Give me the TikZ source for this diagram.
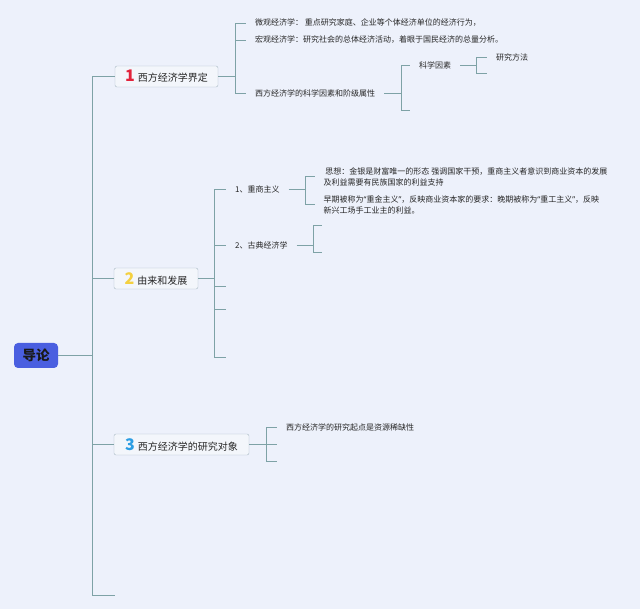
\documentclass[tikz,border=0pt]{standalone}
\usepackage{fontspec}
\newfontfamily\cjk{Noto Sans CJK SC}
\newfontfamily\lat{Noto Sans}
\definecolor{bgcol}{HTML}{EDF1FB}
\definecolor{linkcol}{HTML}{7EA2A6}
\definecolor{boxfill}{HTML}{F3F6FB}
\definecolor{boxdraw}{HTML}{A9B9C4}
\definecolor{rootcol}{HTML}{4A5FE0}
\definecolor{numA}{HTML}{E2233B}
\definecolor{numB}{HTML}{F4D03F}
\definecolor{numC}{HTML}{2B9DE3}
\newcommand{\topicnum}[2]{\textcolor{#1}{\fontsize{16}{16}\selectfont\bfseries #2}\hspace{3pt}}
\newcommand{\quoted}[1]{{\lat “}#1{\lat ”}}
\begin{document}
\begin{tikzpicture}[x=1pt, y=-1pt,
  every node/.style={font=\cjk\fontsize{8}{11}\selectfont, text=black!85, inner sep=0pt},
  link/.style={draw=linkcol, line width=.8pt},
  rootbox/.style={fill=rootcol, rounded corners=4pt, minimum width=44pt, minimum height=25pt,
    font=\cjk\bfseries\fontsize{13.5}{13.5}\selectfont, text=black!90},
  topic/.style={draw=boxdraw, fill=boxfill, rounded corners=2pt, minimum height=21pt,
    font=\cjk\fontsize{10}{12}\selectfont},
  leaf/.style={anchor=west, inner xsep=9pt, align=left}]
  \fill [bgcol] (0,0) rectangle (640,609);
  \node [rootbox] (intro) at (36,355.5) {导论};
  \node [topic, minimum width=103pt] (def) at (166.5,76.5) {\topicnum{numA}{1}西方经济学界定};
  \node [topic, minimum width=84pt] (hist) at (156,278.5) {\topicnum{numB}{2}由来和发展};
  \node [topic, minimum width=135pt] (obj) at (181.5,444.5) {\topicnum{numC}{3}西方经济学的研究对象};
  \coordinate (tail) at (115,595);
  \draw [link] (intro.east) -- ++(34,0) |- (def.west);
  \draw [link] (intro.east) -- ++(34,0) |- (hist.west);
  \draw [link] (intro.east) -- ++(34,0) |- (obj.west);
  \draw [link] (intro.east) -- ++(34,0) |- (tail);
  % 1
  \node [leaf] (micro) at (246,23) {微观经济学： 重点研究家庭、企业等个体经济单位的经济行为，};
  \node [leaf] (macro) at (246,40) {宏观经济学：研究社会的总体经济活动，着眼于国民经济的总量分析。};
  \node [leaf] (attr) at (246,93.5) {西方经济学的科学因素和阶级属性};
  \node [leaf] (sci) at (410,65.5) {科学因素};
  \node [leaf] (meth) at (487,57) {研究方法};
  \coordinate (attrE) at (410,110);
  \coordinate (sciE) at (487,73);
  \draw [link] (def.east) -- ++(17,0) |- (micro.west);
  \draw [link] (def.east) -- ++(17,0) |- (macro.west);
  \draw [link] (def.east) -- ++(17,0) |- (attr.west);
  \draw [link] (attr.east) -- ++(17,0) |- (sci.west);
  \draw [link] (attr.east) -- ++(17,0) |- (attrE);
  \draw [link] (sci.east) -- ++(16,0) |- (meth.west);
  \draw [link] (sci.east) -- ++(16,0) |- (sciE);
  % 2
  \node [leaf] (merc) at (226,189.5) {1、重商主义};
  \node [leaf] (classic) at (226,245.5) {2、古典经济学};
  \node [leaf] (idea) at (314.5,176.5) {\ 思想：金银是财富唯一的形态 强调国家干预，重商主义者意识到商业资本的发展\\及利益需要有民族国家的利益支持};
  \node [leaf] (later) at (314.5,204.5) {早期被称为\quoted{重金主义}，反映商业资本家的要求：晚期被称为\quoted{重工主义}，反映\\新兴工场手工业主的利益。};
  \coordinate (histA) at (226,286);
  \coordinate (histB) at (226,309);
  \coordinate (histC) at (226,357);
  \coordinate (classA) at (322,225);
  \coordinate (classB) at (322,252);
  \draw [link] (hist.east) -- ++(16.5,0) |- (merc.west);
  \draw [link] (hist.east) -- ++(16.5,0) |- (classic.west);
  \draw [link] (hist.east) -- ++(16.5,0) |- (histA);
  \draw [link] (hist.east) -- ++(16.5,0) |- (histB);
  \draw [link] (hist.east) -- ++(16.5,0) |- (histC);
  \draw [link] (merc.east) -- ++(17,0) |- (idea.west);
  \draw [link] (merc.east) -- ++(17,0) |- (later.west);
  \draw [link] (classic.east) -- ++(17,0) |- (classA);
  \draw [link] (classic.east) -- ++(17,0) |- (classB);
  % 3
  \node [leaf] (start) at (277,427.5) {西方经济学的研究起点是资源稀缺性};
  \coordinate (objA) at (277,444.5);
  \coordinate (objB) at (277,461);
  \draw [link] (obj.east) -- ++(17,0) |- (start.west);
  \draw [link] (obj.east) -- ++(17,0) |- (objA);
  \draw [link] (obj.east) -- ++(17,0) |- (objB);
\end{tikzpicture}
\end{document}
